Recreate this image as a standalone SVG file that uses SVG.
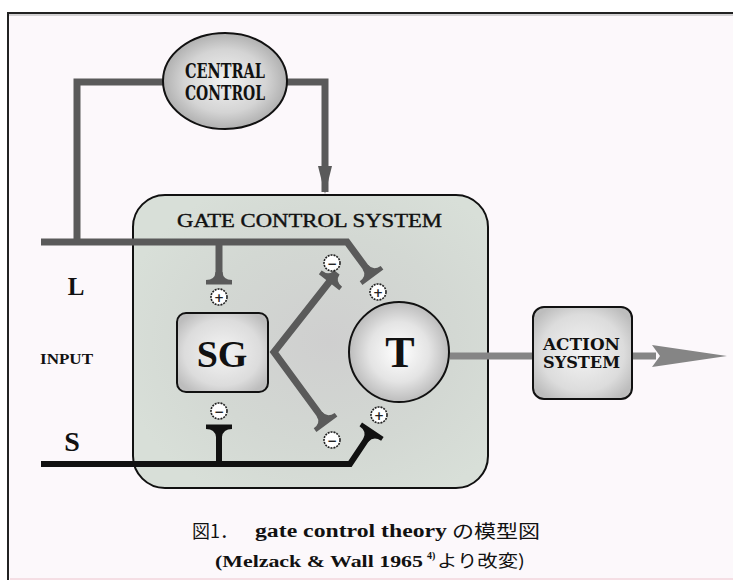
<svg xmlns="http://www.w3.org/2000/svg" width="733" height="580" viewBox="0 0 733 580">
<defs>
<radialGradient id="gEll" cx="0.5" cy="0.5" r="0.55">
<stop offset="0" stop-color="#f2f2f2"/><stop offset="0.6" stop-color="#d4d4d4"/><stop offset="1" stop-color="#a6a6a6"/>
</radialGradient>
<radialGradient id="gBox" cx="0.5" cy="0.5" r="0.6">
<stop offset="0" stop-color="#f4f4f4"/><stop offset="0.7" stop-color="#dcdcdc"/><stop offset="1" stop-color="#bdbdbd"/>
</radialGradient>
<radialGradient id="gT" cx="0.5" cy="0.5" r="0.5">
<stop offset="0" stop-color="#ffffff"/><stop offset="0.6" stop-color="#e4e4e4"/><stop offset="1" stop-color="#bcbcbc"/>
</radialGradient>
<radialGradient id="gGate" cx="0.55" cy="0.5" r="0.6">
<stop offset="0" stop-color="#cfcfcf"/><stop offset="0.6" stop-color="#d3d8d3"/><stop offset="1" stop-color="#d8dfd8"/>
</radialGradient>
<marker id="teeG" viewBox="-14 -14 17 28" refX="0" refY="0" markerWidth="17" markerHeight="28" markerUnits="userSpaceOnUse" orient="auto">
<path d="M -11,-3.5 Q -3,-4 -3,-13 L 1.5,-13 L 1.5,13 L -3,13 Q -3,4 -11,3.5 Z" fill="#5a5a5a"/>
</marker>
<marker id="teeK" viewBox="-14 -14 17 28" refX="0" refY="0" markerWidth="17" markerHeight="28" markerUnits="userSpaceOnUse" orient="auto">
<path d="M -11,-3 Q -3,-4 -3,-13 L 1.5,-13 L 1.5,13 L -3,13 Q -3,4 -11,3 Z" fill="#111"/>
</marker>
<marker id="arrG" viewBox="0 -8 28 16" refX="26" refY="0" markerWidth="28" markerHeight="16" markerUnits="userSpaceOnUse" orient="auto">
<polygon points="0,-7 28,0 0,7" fill="#5a5a5a"/>
</marker>
<style>
.gl{fill:none;stroke:#5a5a5a;stroke-width:7}
.kl{fill:none;stroke:#111;stroke-width:6}
.ser{font-family:"DejaVu Serif","Liberation Serif",serif;font-weight:bold;fill:#111}
.tim{font-family:"Liberation Serif",serif;font-weight:bold;fill:#111}
.sign circle{fill:#fff;stroke:#222;stroke-width:1.6;stroke-dasharray:2 1}
.sign text{font-family:"DejaVu Sans",sans-serif;font-size:12px;font-weight:bold;fill:#222;text-anchor:middle}
.cap{font-family:"Liberation Serif","Noto Sans CJK JP",serif;fill:#111}
.cjk{font-family:"Noto Sans CJK JP",sans-serif;fill:#111}
</style>
</defs>
<rect width="733" height="580" fill="#ffffff"/>
<rect x="8" y="13" width="725" height="567" fill="#fcf8fb"/>
<line x1="7" y1="13" x2="733" y2="13" stroke="#222" stroke-width="2"/>
<line x1="7" y1="15" x2="733" y2="15" stroke="#aaa" stroke-width="1"/>
<line x1="8" y1="12" x2="8" y2="580" stroke="#222" stroke-width="2"/>
<line x1="10" y1="579" x2="733" y2="579" stroke="#f3d6dc" stroke-width="1.5"/>

<g id="gate-control-system">
<rect x="133" y="195" width="355" height="293" rx="32" fill="url(#gGate)" stroke="#111" stroke-width="2"/>
<text class="tim" x="177" y="227" font-size="19" textLength="265" lengthAdjust="spacingAndGlyphs" style="font-weight:normal;stroke:#111;stroke-width:0.4">GATE  CONTROL  SYSTEM</text>
</g>

<g id="connectors">
<polyline class="gl" points="77,242 77,82 165,82"/>
<polyline class="gl" points="285,82 325,82 325,192" stroke-width="6" marker-end="url(#arrG)"/>
<polyline class="gl" points="41,242 347,242 372,276" marker-end="url(#teeG)"/>
<polyline class="gl" points="219,242 219,283" marker-end="url(#teeG)"/>
<polyline class="gl" points="330,281 274,352 326,423" marker-start="url(#teeG)" marker-end="url(#teeG)" style="stroke-linejoin:miter"/>
<polyline class="kl" points="41,464 350,464 372,431" marker-end="url(#teeK)"/>
<polyline class="kl" points="219,464 219,426" marker-end="url(#teeK)"/>
<line x1="450" y1="356" x2="533" y2="356" stroke="#858585" stroke-width="7"/>
<line x1="632" y1="356" x2="656" y2="356" stroke="#858585" stroke-width="7"/>
<polygon points="652,345 727,356 652,367 660,356" fill="#858585"/>
</g>

<g id="signs" class="sign">
<g id="sign-l-sg"><circle cx="219" cy="297" r="8"/><text x="219" y="301.5">+</text></g>
<g id="sign-l-t"><circle cx="378" cy="292" r="8"/><text x="378" y="296.5">+</text></g>
<g id="sign-sg-t-up"><circle cx="332" cy="263" r="8"/><text x="332" y="267.5">−</text></g>
<g id="sign-s-sg"><circle cx="219" cy="411" r="8"/><text x="219" y="415.5">−</text></g>
<g id="sign-sg-t-down"><circle cx="332" cy="440" r="8"/><text x="332" y="444.5">−</text></g>
<g id="sign-s-t"><circle cx="379" cy="415" r="8"/><text x="379" y="419.5">+</text></g>
</g>

<g id="central-control">
<ellipse cx="225" cy="81" rx="62" ry="48" fill="url(#gEll)" stroke="#111" stroke-width="2"/>
<text class="ser" x="185" y="78" font-size="20" textLength="80" lengthAdjust="spacingAndGlyphs">CENTRAL</text>
<text class="ser" x="185" y="100" font-size="20" textLength="80" lengthAdjust="spacingAndGlyphs">CONTROL</text>
</g>

<g id="sg">
<rect x="177" y="313" width="91" height="79" rx="9" fill="url(#gBox)" stroke="#111" stroke-width="2"/>
<text class="tim" x="222" y="367" font-size="38" text-anchor="middle">SG</text>
</g>

<g id="t">
<circle cx="399" cy="352" r="50" fill="url(#gT)" stroke="#111" stroke-width="2"/>
<text class="tim" x="400" y="367" font-size="44" text-anchor="middle">T</text>
</g>

<g id="action-system">
<rect x="533" y="307" width="99" height="92" rx="11" fill="url(#gBox)" stroke="#111" stroke-width="2"/>
<text class="ser" x="543" y="350" font-size="16" textLength="77" lengthAdjust="spacingAndGlyphs">ACTION</text>
<text class="ser" x="543" y="368" font-size="16" textLength="77" lengthAdjust="spacingAndGlyphs">SYSTEM</text>
</g>

<g id="labels">
<text class="tim" x="76" y="295" font-size="25" text-anchor="middle">L</text>
<text class="tim" x="40" y="364" font-size="15" textLength="53" lengthAdjust="spacingAndGlyphs">INPUT</text>
<text class="tim" x="72" y="451" font-size="28" text-anchor="middle">S</text>
</g>

<g id="caption">
<text class="cjk" x="192" y="538" font-size="18">図1．</text>
<text class="cap" x="255" y="537" font-size="18" font-weight="bold" textLength="192" lengthAdjust="spacingAndGlyphs">gate control theory</text>
<text class="cjk" x="452" y="538" font-size="18" textLength="88" lengthAdjust="spacingAndGlyphs">の模型図</text>
<text class="cap" x="215" y="567" font-size="17" font-weight="bold" textLength="208" lengthAdjust="spacingAndGlyphs">(Melzack &amp; Wall 1965</text>
<text class="cap" x="427" y="559" font-size="10" font-weight="bold">4)</text>
<text class="cjk" x="437" y="567" font-size="17" textLength="88" lengthAdjust="spacingAndGlyphs">より改変)</text>
</g>
</svg>
